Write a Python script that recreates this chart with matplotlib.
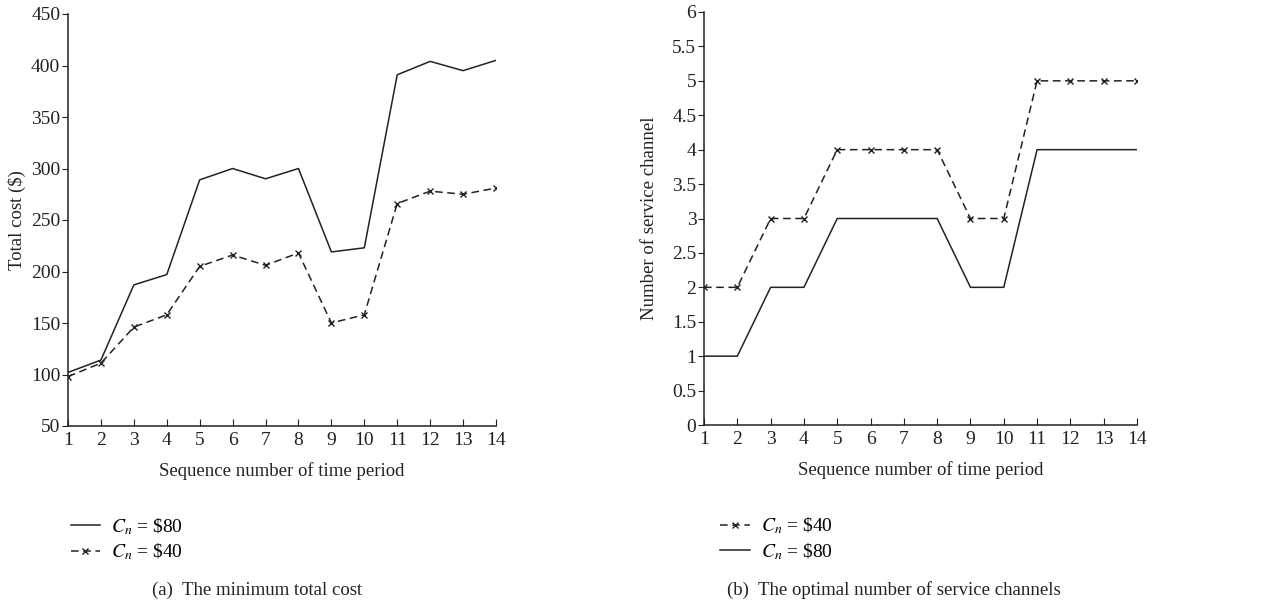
import numpy as np
import matplotlib
matplotlib.use("Agg")
import matplotlib.pyplot as plt

plt.rcParams["font.family"] = ["Liberation Serif", "DejaVu Serif"]
plt.rcParams["mathtext.fontset"] = "stix"

# dados
periodos = np.arange(1, 15)
custo_80 = [102, 114, 187, 197, 289, 300, 290, 300, 219, 223, 391, 404, 395, 405]
custo_40 = [98, 111, 146, 158, 205, 216, 206, 218, 150, 158, 266, 278, 275, 281]
canais_40 = [2, 2, 3, 3, 4, 4, 4, 4, 3, 3, 5, 5, 5, 5]
canais_80 = [1, 1, 2, 2, 3, 3, 3, 3, 2, 2, 4, 4, 4, 4]

cor = "#222222"
fs = 14
dash = (0, (5, 3))

fig = plt.figure(figsize=(12.62, 6.06), dpi=100)
W, H = 1262, 606

def eixo(x0, x1, y0, y1):
    return fig.add_axes([x0 / W, 1 - y1 / H, (x1 - x0) / W, (y1 - y0) / H])

def estilo(ax):
    for s in ["top", "right"]:
        ax.spines[s].set_visible(False)
    for s in ["left", "bottom"]:
        ax.spines[s].set_linewidth(1.1)
        ax.spines[s].set_color(cor)
    ax.tick_params(axis="x", direction="in", length=5, labelsize=fs, colors=cor, pad=4)
    ax.tick_params(axis="y", direction="out", length=4, labelsize=fs, colors=cor, pad=1.5)
    ax.set_xlim(1, 14)
    ax.set_xticks(periodos)
    ax.set_xlabel("Sequence number of time period", fontsize=13.5, color=cor, labelpad=10)

# (a) custo total minimo
ax1 = eixo(68, 496, 14, 426)
ax1.plot(periodos, custo_80, color=cor, lw=1.1, label=r"$C_n$ = \$80")
ax1.plot(periodos, custo_40, color=cor, lw=1.1, linestyle=dash, marker="x", ms=5,
         mew=1, label=r"$C_n$ = \$40")
ax1.set_ylim(50, 450)
ax1.set_yticks(np.arange(50, 451, 50))
ax1.set_ylabel("Total cost ($)", fontsize=13.5, color=cor)
ax1.yaxis.set_label_coords(-0.098, 0.5)
estilo(ax1)
ax1.legend(loc="upper left", bbox_to_anchor=(-0.012, -0.2), frameon=False, fontsize=fs,
           handlelength=1.5, handletextpad=0.6, labelspacing=0.25, borderaxespad=0)

# (b) numero otimo de canais
ax2 = eixo(704, 1137, 12, 425)
ax2.plot(periodos, canais_40, color=cor, lw=1.1, linestyle=dash, marker="x", ms=5,
         mew=1, label=r"$C_n$ = \$40")
ax2.plot(periodos, canais_80, color=cor, lw=1.1, label=r"$C_n$ = \$80")
ax2.set_ylim(0, 6)
ax2.set_yticks(np.arange(0, 6.01, 0.5))
ax2.set_yticklabels([f"{v:g}" for v in np.arange(0, 6.01, 0.5)])
ax2.set_ylabel("Number of service channel", fontsize=13.5, color=cor)
ax2.yaxis.set_label_coords(-0.106, 0.5)
estilo(ax2)
ax2.legend(loc="upper left", bbox_to_anchor=(0.02, -0.2), frameon=False, fontsize=fs,
           handlelength=1.5, handletextpad=0.6, labelspacing=0.25, borderaxespad=0)

fig.text(257 / W, 1 - 590 / H, "(a)  The minimum total cost", ha="center", va="center",
         fontsize=13.5, color=cor)
fig.text(894 / W, 1 - 590 / H, "(b)  The optimal number of service channels", ha="center",
         va="center", fontsize=13.5, color=cor)

fig.savefig("out.png", dpi=100)
